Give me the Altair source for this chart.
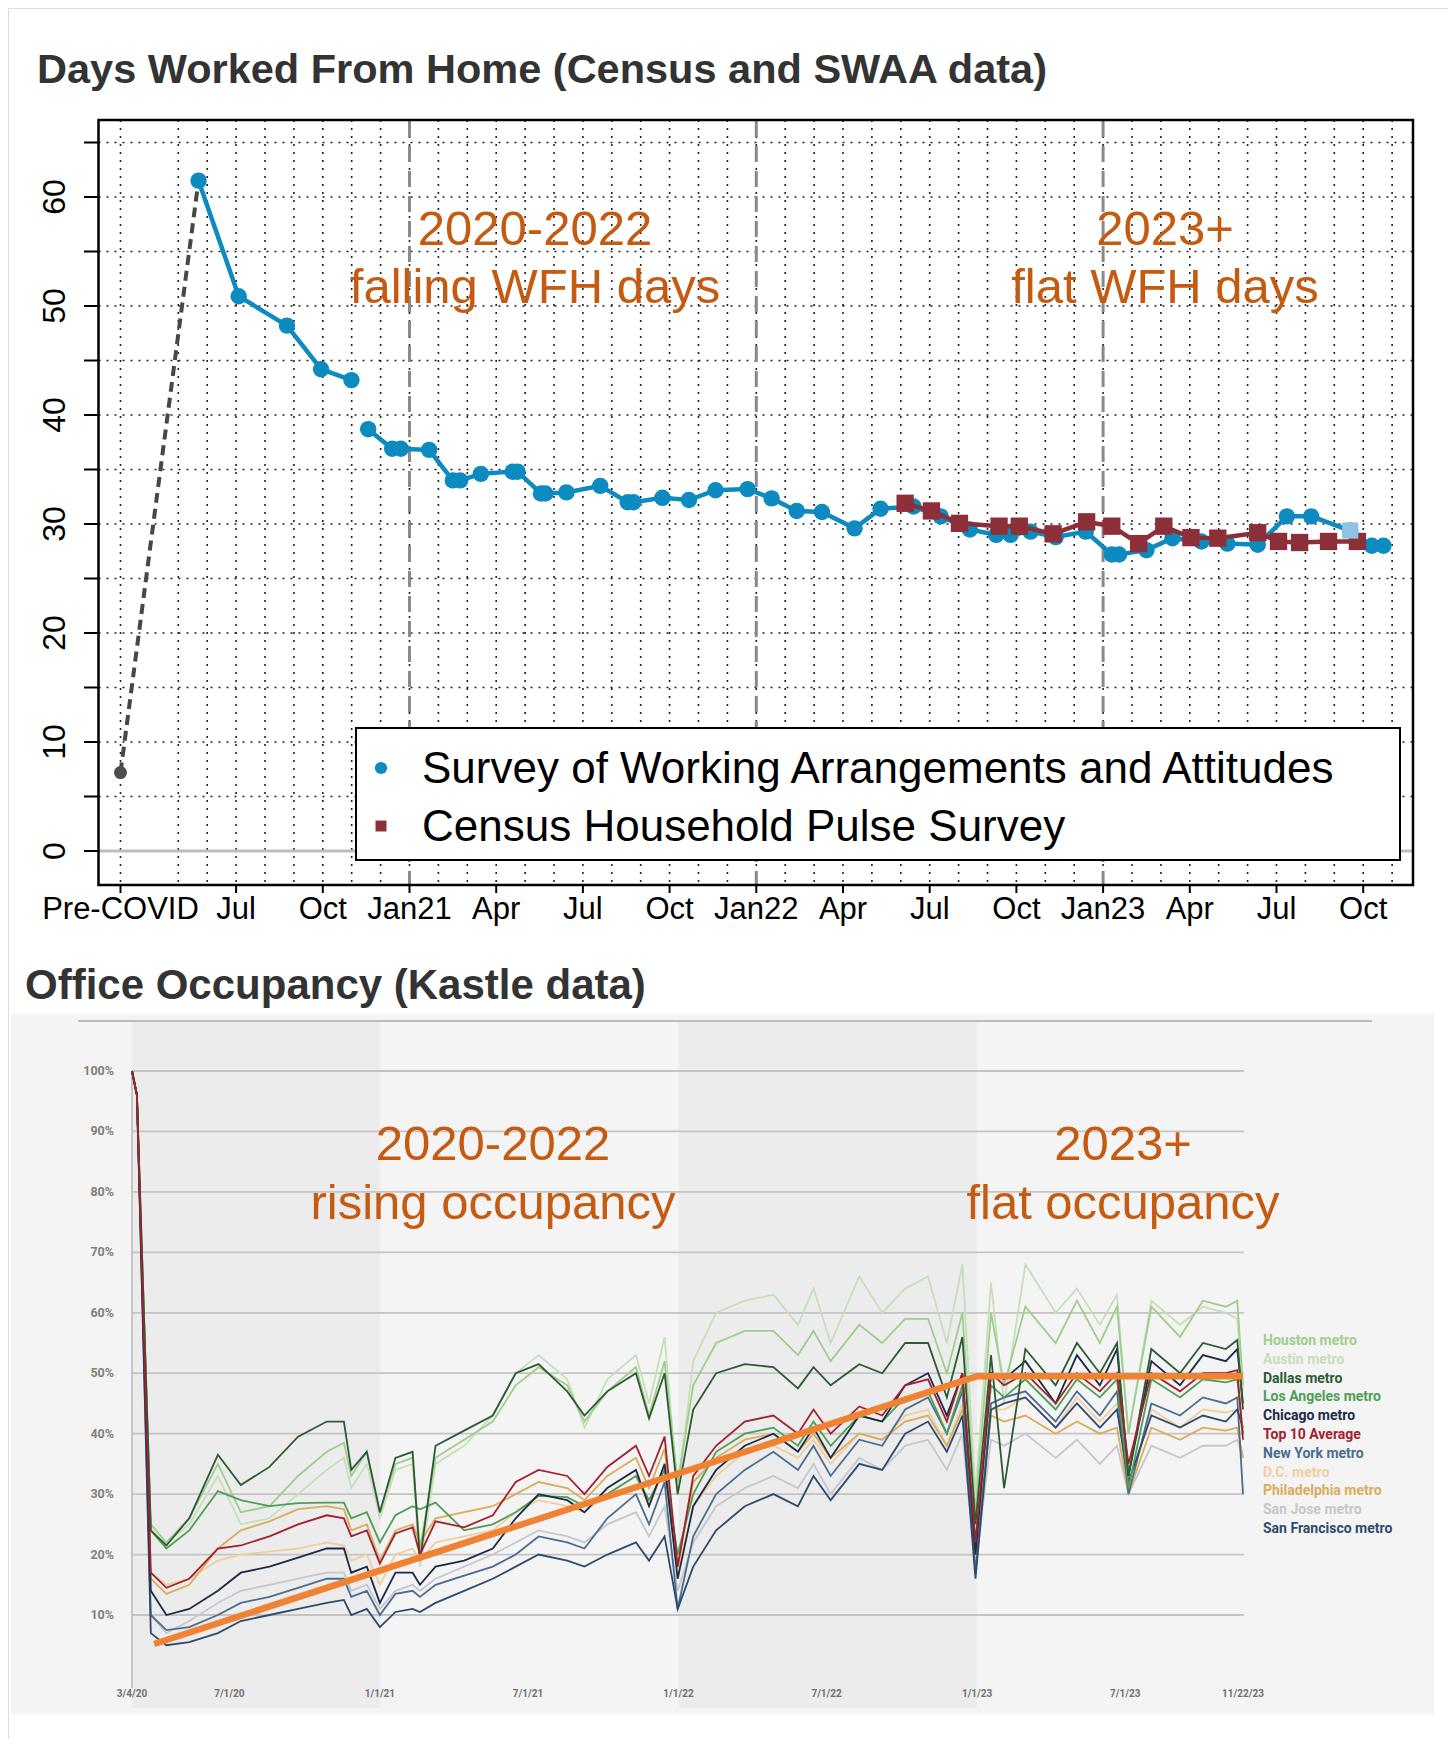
import altair as alt
import pandas as pd

W, H = 1440, 1731

# ---------------- Top panel: days worked from home ----------------
pre_m = [0.0, 2.70]
pre_v = [7.2, 61.5]
swaa_a_m = [2.70, 4.09, 5.76, 6.94, 7.99]
swaa_a_v = [61.5, 50.9, 48.2, 44.2, 43.2]
swaa_b_m = [8.57, 9.4, 9.7, 10.68, 11.5, 11.75, 12.47, 13.57, 13.74, 14.55, 14.7, 15.43, 16.6, 17.55, 17.75,
            18.75, 19.67, 20.59, 21.7, 22.53, 23.4, 24.27, 25.4, 26.3, 27.44, 28.38, 29.39, 30.3, 30.8, 31.49,
            32.36, 33.4, 34.3, 34.55, 35.5, 36.4, 37.4, 38.3, 39.35, 40.36, 41.2, 42.55, 43.3, 43.7]
swaa_b_v = [38.7, 36.9, 36.9, 36.8, 34.0, 34.0, 34.6, 34.8, 34.8, 32.8, 32.8, 32.9, 33.5, 32.0, 32.0,
            32.4, 32.2, 33.1, 33.2, 32.35, 31.2, 31.1, 29.6, 31.4, 31.6, 30.7, 29.5, 29.0, 29.0, 29.3,
            28.8, 29.3, 27.2, 27.2, 27.6, 28.7, 28.4, 28.2, 28.1, 30.7, 30.7, 29.4, 28.0, 28.0]
light_m = [42.55]
light_v = [29.4]
cen_m = [27.15, 28.06, 29.03, 30.4, 31.1, 32.27, 33.43, 34.3, 35.23, 36.1, 37.04, 37.97, 39.35, 40.07, 40.8, 41.8, 42.8]
cen_v = [31.9, 31.2, 30.06, 29.8, 29.8, 29.1, 30.2, 29.8, 28.2, 29.8, 28.75, 28.7, 29.2, 28.4, 28.3, 28.4, 28.4]

top_tick_m = [0, 4, 7, 10, 13, 16, 19, 22, 25, 28, 31, 34, 37, 40, 43]
top_tick_lab = ["Pre-COVID", "Jul", "Oct", "Jan21", "Apr", "Jul", "Oct", "Jan22", "Apr", "Jul", "Oct",
                "Jan23", "Apr", "Jul", "Oct"]
grid_months = [0] + list(range(2, 45))
grid_vals = list(range(0, 66, 5))
ylab_vals = list(range(0, 61, 10))
year_lines_m = [10, 22, 34]

# ---------------- Bottom panel: office occupancy ----------------
occ_dates = [
    "2020-03-04", "2020-03-10", "2020-03-27", "2020-04-15", "2020-05-13", "2020-06-17", "2020-07-15", "2020-08-19", "2020-09-23", "2020-10-28",
    "2020-11-18", "2020-11-27", "2020-12-16", "2021-01-01", "2021-01-20", "2021-02-10", "2021-02-19", "2021-03-10", "2021-04-14", "2021-05-19",
    "2021-06-16", "2021-07-14", "2021-08-18", "2021-09-08", "2021-10-06", "2021-11-10", "2021-11-26", "2021-12-15", "2021-12-31", "2022-01-19",
    "2022-02-16", "2022-03-23", "2022-04-27", "2022-05-27", "2022-06-15", "2022-07-06", "2022-08-10", "2022-09-07", "2022-10-05", "2022-11-02",
    "2022-11-25", "2022-12-14", "2022-12-30", "2023-01-18", "2023-02-03", "2023-03-01", "2023-04-07", "2023-05-03", "2023-05-31", "2023-06-21",
    "2023-07-05", "2023-08-02", "2023-09-06", "2023-10-04", "2023-11-01", "2023-11-15", "2023-11-22"]

houston = [100, 96, 25, 22, 26, 35, 27, 28, 33, 37, 38.5, 33, 37, 27, 35, 36, 21, 36, 39, 42, 48, 51, 48, 42, 47, 51, 43, 52, 32, 48,
           55, 57, 57, 53, 57, 52, 58, 55, 59, 59, 50, 60, 27, 60, 48, 61, 55, 62, 55, 61, 40, 61, 56, 62, 61, 62, 48]
austin = [100, 96, 25, 22, 25, 33, 25, 26, 30, 34, 36, 31, 35, 26, 34, 35, 18, 35, 38, 43, 50, 53, 49, 41, 49, 53, 45, 56, 30, 52,
          60, 62, 63, 58, 64, 55, 66, 60, 64, 66, 55, 68, 30, 65, 45, 68, 60, 64, 58, 63, 40, 62, 58, 61, 60, 59, 47]
dallas = [100, 96, 24, 21.5, 26, 36.5, 31.5, 34.5, 39.5, 42, 42, 34, 37, 27, 36, 37, 19, 38, 40.5, 43, 50, 51.5, 47, 43, 47, 50, 42.5, 50, 30, 44,
          50, 51.5, 51, 47.5, 51, 48, 51.5, 50, 55, 55, 46, 56, 25, 53, 31, 54, 48, 55, 50, 55, 33, 54, 50, 55, 54, 55.5, 44]
los_angeles = [100, 96, 24, 21, 24, 30.5, 29, 28, 28.5, 28.6, 28.6, 26, 27, 22, 26.5, 28, 27.5, 28.6, 24, 25, 27, 29.7, 29.5, 28, 30, 33, 29, 34, 20, 30,
               37, 40, 41, 38, 42, 38, 43, 42, 46, 47, 40, 48, 22, 48, 46, 49, 44, 49, 46, 49, 31, 49, 46, 49, 48.5, 49, 40]
chicago = [100, 96, 14, 10, 11, 14, 17, 18, 19.5, 21, 21, 17, 18, 12, 17, 17, 15, 18, 19, 21, 26, 30, 29, 27, 31, 34, 28, 35, 16, 28,
           34, 38, 40, 37, 41, 36, 43, 42, 48, 50, 43, 50, 20, 50, 49, 52, 45, 53, 48, 54, 33, 52, 48, 53, 52, 54, 45]
top10 = [100, 96, 17, 14.5, 16, 21, 21.5, 23, 25, 26.5, 26, 23, 24, 18.5, 23.5, 24.5, 20, 25.5, 24.5, 26.5, 32, 34, 33, 30, 34.5, 38, 33, 39.5, 18, 33,
         38, 42, 43, 40, 44, 40, 44.5, 43, 48, 49, 42, 50, 22, 50, 48, 50, 45, 50, 47, 50, 35, 50, 47, 50, 50, 50.5, 39]
new_york = [100, 96, 10, 7.5, 8, 10, 12, 13, 14.5, 16, 16, 13, 14, 10, 13.5, 14, 13, 15, 16.5, 18, 20, 23, 22, 21, 26, 30, 25, 32, 11, 23,
            30, 34, 37, 34, 38, 33, 39, 38, 44, 46, 40, 47, 17, 45, 46, 47, 42, 47, 43, 47, 30, 45, 43, 46, 45, 46, 30]
dc = [100, 96, 17, 15, 16, 19, 20, 20.5, 21, 22, 21.5, 19, 20, 15, 20, 21, 19, 22, 23, 24, 27, 29, 28, 27, 30, 33, 28, 34, 17, 28,
      33, 37, 38, 36, 39, 35, 40, 39, 43, 44, 38, 45, 20, 44, 44, 46, 41, 46, 42, 45, 30, 44, 41, 44, 43.5, 44, 40]
philadelphia = [100, 96, 16, 13.5, 15, 21, 24, 25.5, 27.5, 28, 27.5, 24, 25, 19, 24, 25, 22, 26, 27, 28, 30, 32, 31, 29, 33, 36, 31, 37.5, 18, 32,
                36, 39, 40, 37, 40, 36, 40, 39, 42, 43, 38, 44, 20, 43, 42, 43, 40, 42, 40, 41, 30, 41, 39, 41, 40.5, 41, 36]
san_jose = [100, 96, 10, 7, 9, 12, 14, 15, 16, 17, 17, 14, 15, 11, 14, 15, 14, 16, 18, 20, 22, 24, 23, 22, 25, 27, 23, 28, 14, 22,
            28, 31, 33, 31, 35, 30, 36, 34, 38, 39, 34, 40, 18, 39, 38, 40, 36, 39, 35, 38, 30, 38, 36, 38, 38, 39, 36]
san_francisco = [100, 96, 7, 5, 5.5, 7, 9, 10, 11, 12, 12.5, 10, 11, 8, 10.5, 11, 10.5, 12, 14, 16, 18, 20, 19, 18, 20, 22, 19, 23, 11, 18,
                 24, 28, 30, 28, 33, 29, 35, 34, 40, 42, 37, 43, 16, 44, 45, 46, 41, 45, 41, 44, 32, 43, 41, 43, 42, 44, 41]

occ_names = ["Houston metro", "Austin metro", "Dallas metro", "Los Angeles metro", "Chicago metro", "Top 10 Average",
             "New York metro", "D.C. metro", "Philadelphia metro", "San Jose metro", "San Francisco metro"]
occ_colors = ["#9fce8c", "#c6dfba", "#2b5a33", "#4f9e55", "#1d2b47", "#a3202e",
              "#4c6c8e", "#efcf9f", "#d8ad5c", "#c4c7cb", "#2e4a6d"]
occ_values = [houston, austin, dallas, los_angeles, chicago, top10, new_york, dc, philadelphia, san_jose, san_francisco]
draw_order = ["San Jose metro", "D.C. metro", "Austin metro", "Houston metro", "Philadelphia metro", "New York metro",
              "San Francisco metro", "Los Angeles metro", "Chicago metro", "Dallas metro", "Top 10 Average"]

trend_dates = ["2020-03-31", "2023-01-01", "2023-11-22"]
trend_vals = [5.2, 49.5, 49.5]
band_starts = ["2020-03-04", "2022-01-01"]
band_ends = ["2021-01-01", "2023-01-01"]
pct_ticks = [100, 90, 80, 70, 60, 50, 40, 30, 20, 10]
xlab_dates = ["2020-03-04", "2020-07-01", "2021-01-01", "2021-07-01", "2022-01-01", "2022-07-01",
              "2023-01-01", "2023-07-01", "2023-11-22"]
xlab_text = ["3/4/20", "7/1/20", "1/1/21", "7/1/21", "1/1/22", "7/1/22", "1/1/23", "7/1/23", "11/22/23"]

# ---------------- helpers ----------------
base = pd.Timestamp("2020-03-04")


def to_days(ds):
    return [(pd.Timestamp(d) - base).days for d in ds]


SANS = "Liberation Sans"
BLUE = "#0d8ac0"
RED = "#8c2f39"
ORANGE_TXT = "#c55a11"

xs_top = alt.Scale(domain=[0, 44], range=[112.5, 112.5 + 44 * 28.9], zero=False, nice=False)
ys_top = alt.Scale(domain=[0, 60], range=[843, 189], zero=False, nice=False)
end_day = to_days(["2023-11-22"])[0]
xs_bot = alt.Scale(domain=[0, end_day], range=[124, 1235], zero=False, nice=False)
ys_bot = alt.Scale(domain=[10, 100], range=[1607, 1063], zero=False, nice=False)

XT = lambda f="m": alt.X(f"{f}:Q", scale=xs_top, axis=None)
YT = lambda f="v": alt.Y(f"{f}:Q", scale=ys_top, axis=None)
XB = lambda f="day": alt.X(f"{f}:Q", scale=xs_bot, axis=None)
YB = lambda f="pct": alt.Y(f"{f}:Q", scale=ys_bot, axis=None)

one = pd.DataFrame({"a": [0]})

# ---------------- top layers ----------------
top = []
top.append(alt.Chart(pd.DataFrame({"m": grid_months})).mark_rule(color="#222222", strokeDash=[2, 6], strokeWidth=1.6)
           .encode(x=XT(), y=alt.value(112), y2=alt.value(877)))
top.append(alt.Chart(pd.DataFrame({"v": grid_vals})).mark_rule(color="#222222", strokeDash=[2, 6], strokeWidth=1.6)
           .encode(y=YT(), x=alt.value(90.5), x2=alt.value(1405)))
top.append(alt.Chart(pd.DataFrame({"v": [0]})).mark_rule(color="#bdbdbd", strokeWidth=3)
           .encode(y=YT(), x=alt.value(91), x2=alt.value(1404)))
top.append(alt.Chart(pd.DataFrame({"m": year_lines_m})).mark_rule(color="#8a8a8a", strokeDash=[16, 9], strokeWidth=3)
           .encode(x=XT(), y=alt.value(113), y2=alt.value(876)))
top.append(alt.Chart(pd.DataFrame({"m": pre_m, "v": pre_v})).mark_line(color="#474747", strokeDash=[10, 6], strokeWidth=4)
           .encode(x=XT(), y=YT()))
top.append(alt.Chart(pd.DataFrame({"m": pre_m[:1], "v": pre_v[:1]})).mark_circle(color="#4d4d4d", size=170, opacity=1)
           .encode(x=XT(), y=YT()))
swaa_df = pd.DataFrame({"m": swaa_a_m + swaa_b_m, "v": swaa_a_v + swaa_b_v,
                        "seg": ["a"] * len(swaa_a_m) + ["b"] * len(swaa_b_m)})
top.append(alt.Chart(swaa_df).mark_line(color=BLUE, strokeWidth=4.5).encode(x=XT(), y=YT(), detail="seg:N"))
top.append(alt.Chart(swaa_df).mark_circle(color=BLUE, size=270, opacity=1).encode(x=XT(), y=YT()))
cen_df = pd.DataFrame({"m": cen_m, "v": cen_v})
top.append(alt.Chart(cen_df).mark_line(color=RED, strokeWidth=4.5).encode(x=XT(), y=YT()))
top.append(alt.Chart(cen_df).mark_square(color=RED, size=300, opacity=1).encode(x=XT(), y=YT()))
top.append(alt.Chart(pd.DataFrame({"m": light_m, "v": light_v})).mark_square(color="#8fc3e6", size=260, opacity=1)
           .encode(x=XT(), y=YT()))
# frame
top.append(alt.Chart(one).mark_rect(fill="transparent", stroke="black", strokeWidth=2.5)
           .encode(x=alt.value(90.5), x2=alt.value(1405), y=alt.value(112), y2=alt.value(877)))
# y ticks + labels
top.append(alt.Chart(pd.DataFrame({"v": grid_vals})).mark_rule(color="black", strokeWidth=2)
           .encode(y=YT(), x=alt.value(76), x2=alt.value(90)))
top.append(alt.Chart(pd.DataFrame({"v": ylab_vals, "lab": [str(v) for v in ylab_vals]}))
           .mark_text(angle=270, font=SANS, fontSize=32, color="black", align="center", baseline="middle")
           .encode(y=YT(), x=alt.value(47), text="lab:N"))
# x ticks + labels
xt_df = pd.DataFrame({"m": top_tick_m, "lab": top_tick_lab})
top.append(alt.Chart(xt_df).mark_rule(color="black", strokeWidth=2)
           .encode(x=XT(), y=alt.value(878), y2=alt.value(885)))
top.append(alt.Chart(xt_df).mark_text(font=SANS, fontSize=31, color="black", baseline="middle")
           .encode(x=XT(), y=alt.value(902), text="lab:N"))
# legend
top.append(alt.Chart(one).mark_rect(fill="white", stroke="black", strokeWidth=2)
           .encode(x=alt.value(348), x2=alt.value(1392), y=alt.value(720), y2=alt.value(852)))
top.append(alt.Chart(one).mark_circle(color=BLUE, size=150, opacity=1).encode(x=alt.value(373), y=alt.value(760)))
top.append(alt.Chart(one).mark_square(color=RED, size=120, opacity=1).encode(x=alt.value(373), y=alt.value(818)))
top.append(alt.Chart(pd.DataFrame({"t": ["Survey of Working Arrangements and Attitudes"]}))
           .mark_text(font=SANS, fontSize=44, color="black", align="left", baseline="middle")
           .encode(x=alt.value(414), y=alt.value(762), text="t:N"))
top.append(alt.Chart(pd.DataFrame({"t": ["Census Household Pulse Survey"]}))
           .mark_text(font=SANS, fontSize=44, color="black", align="left", baseline="middle")
           .encode(x=alt.value(414), y=alt.value(820), text="t:N"))
# annotations
for txt, xx, yy in [("2020-2022", 527, 222), ("falling WFH days", 527, 280),
                    ("2023+", 1157, 222), ("flat WFH days", 1157, 280)]:
    top.append(alt.Chart(pd.DataFrame({"t": [txt]}))
               .mark_text(font=SANS, fontSize=49, color=ORANGE_TXT, align="center", baseline="middle")
               .encode(x=alt.value(xx), y=alt.value(yy), text="t:N"))
top.append(alt.Chart(pd.DataFrame({"t": ["Days Worked From Home (Census and SWAA data)"]}))
           .mark_text(font=SANS, fontSize=41.5, fontWeight="bold", color="#333333", align="left", baseline="alphabetic")
           .encode(x=alt.value(29), y=alt.value(75), text="t:N"))

# ---------------- bottom layers ----------------
bot = []
bot.append(alt.Chart(one).mark_rect(fill="#f4f4f4")
           .encode(x=alt.value(3), x2=alt.value(1426), y=alt.value(1006), y2=alt.value(1706)))
band_df = pd.DataFrame({"day": to_days(band_starts), "day2": to_days(band_ends)})
bot.append(alt.Chart(band_df).mark_rect(fill="#ececec")
           .encode(x=XB(), x2="day2:Q", y=alt.value(1014), y2=alt.value(1700)))
bot.append(alt.Chart(one).mark_rule(color="#bdbdbd", strokeWidth=2)
           .encode(x=alt.value(70), x2=alt.value(1364), y=alt.value(1013)))
bot.append(alt.Chart(pd.DataFrame({"pct": pct_ticks})).mark_rule(color="#c4c4c4", strokeWidth=1.8)
           .encode(y=YB(), x=alt.value(124), x2=alt.value(1236)))
bot.append(alt.Chart(one).mark_rule(color="#b8b8b8", strokeWidth=1.5)
           .encode(x=alt.value(124), y=alt.value(1063), y2=alt.value(1680)))
occ_rows = []
for name, vals in zip(occ_names, occ_values):
    for d, v in zip(to_days(occ_dates), vals):
        occ_rows.append({"day": d, "pct": v, "s": name})
occ_df = pd.DataFrame(occ_rows)
color_of = dict(zip(occ_names, occ_colors))
for name in draw_order:
    bot.append(alt.Chart(occ_df).transform_filter(alt.datum.s == name)
               .mark_line(color=color_of[name], strokeWidth=1.8)
               .encode(x=XB(), y=YB()))
bot.append(alt.Chart(pd.DataFrame({"day": to_days(trend_dates), "pct": trend_vals}))
           .mark_line(color="#ef8233", strokeWidth=6.5)
           .encode(x=XB(), y=YB()))
bot.append(alt.Chart(pd.DataFrame({"pct": pct_ticks, "lab": [f"{p}%" for p in pct_ticks]}))
           .mark_text(font="Roboto", fontWeight="bold", fontSize=12.5, color="#808080", align="right", baseline="middle")
           .encode(y=YB(), x=alt.value(106), text="lab:N"))
bot.append(alt.Chart(pd.DataFrame({"day": to_days(xlab_dates), "lab": xlab_text}))
           .mark_text(font="Roboto", fontWeight="bold", fontSize=10, color="#707070", align="center", baseline="middle")
           .encode(x=XB(), y=alt.value(1686), text="lab:N"))
for i, (name, col) in enumerate(zip(occ_names, occ_colors)):
    bot.append(alt.Chart(pd.DataFrame({"t": [name]}))
               .mark_text(font="Roboto", fontWeight="bold", fontSize=14, color=col, align="left", baseline="middle")
               .encode(x=alt.value(1255), y=alt.value(1333 + i * 18.8), text="t:N"))
for txt, xx, yy in [("2020-2022", 485, 1137), ("rising occupancy", 485, 1196),
                    ("2023+", 1115, 1137), ("flat occupancy", 1115, 1196)]:
    bot.append(alt.Chart(pd.DataFrame({"t": [txt]}))
               .mark_text(font=SANS, fontSize=49, color=ORANGE_TXT, align="center", baseline="middle")
               .encode(x=alt.value(xx), y=alt.value(yy), text="t:N"))
bot.append(alt.Chart(pd.DataFrame({"t": ["Office Occupancy (Kastle data)"]}))
           .mark_text(font=SANS, fontSize=42, fontWeight="bold", color="#333333", align="left", baseline="alphabetic")
           .encode(x=alt.value(17), y=alt.value(991), text="t:N"))

top_layer = alt.layer(*top)
bot_layer = alt.layer(*bot)
chart = (alt.layer(top_layer, bot_layer)
         .resolve_scale(x="independent", y="independent")
         .properties(width=W, height=H, autosize=alt.AutoSizeParams(type="none"), padding=0)
         .configure_view(strokeWidth=0)
         .configure(background="white"))

chart.save("out.html", embed_options={"renderer": "svg", "actions": False})
